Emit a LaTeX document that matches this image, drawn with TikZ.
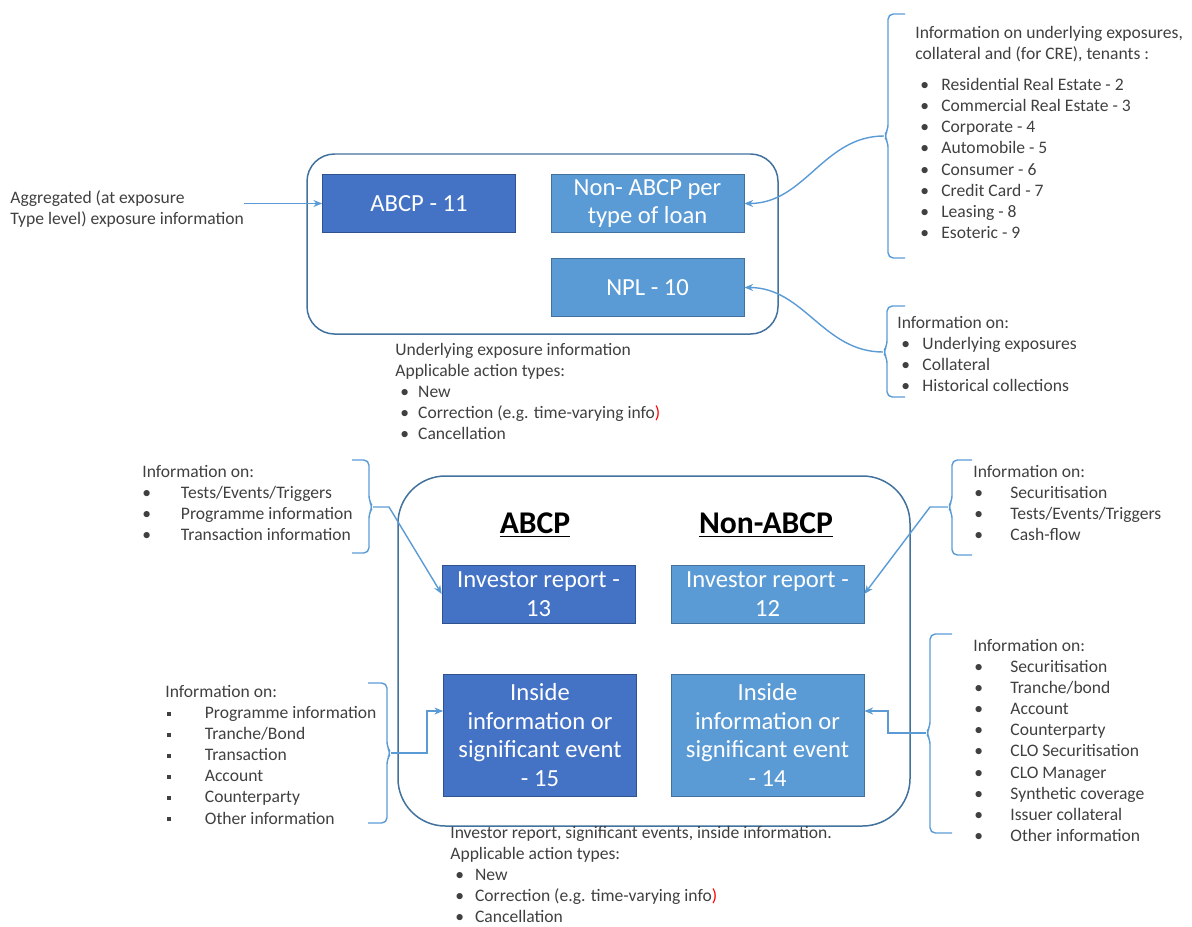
\documentclass[tikz,border=0pt]{standalone}
\usepackage{fontspec}
\setmainfont{Carlito}
\usetikzlibrary{arrows.meta,calc}
\definecolor{darkbox}{HTML}{4472C4}
\definecolor{darkedge}{HTML}{2F528F}
\definecolor{lightbox}{HTML}{5B9BD5}
\definecolor{lightedge}{HTML}{41719C}
\definecolor{panelcol}{HTML}{41719C}
\definecolor{linkcol}{HTML}{5B9BD5}
\definecolor{infotext}{HTML}{404040}
\newcommand{\bul}[2]{\hspace*{#1}\makebox[#2][l]{\textbullet}}
\newcommand{\bsq}[2]{\hspace*{#1}\makebox[#2][l]{\raisebox{1.6pt}{\rule{2.4pt}{2.4pt}}}}
\newcommand{\brk}[6]{\draw[bracket] (#1,#4) -- (#2,#4) -- (#2,#5-6) -- (#3,#5) -- (#2,#5+6) -- (#2,#6) -- (#1,#6);}

\begin{document}
\begin{tikzpicture}[x=0.02cm,y=-0.02cm,
    dbox/.style={fill=darkbox,draw=darkedge,text=white,minimum width=3.86cm,minimum height=1.16cm,align=center,inner sep=1pt,font=\fontsize{14}{16.4}\selectfont},
    lbox/.style={dbox,fill=lightbox,draw=lightedge},
    tall/.style={minimum height=2.44cm},
    info/.style={anchor=north west,inner sep=0pt,align=left,text=infotext,font=\fontsize{10}{12}\selectfont},
    head/.style={font=\fontsize{18}{20}\selectfont\bfseries},
    panel/.style={draw=panelcol,line width=0.85pt},
    arr/.style={draw=linkcol,line width=0.8pt,-{Stealth[length=5pt,width=4pt]}},
    bracket/.style={draw=linkcol,line width=0.8pt,rounded corners=3pt}]
    \useasboundingbox (0,0) rectangle (1192,926);

    \draw[panel,rounded corners=0.55cm] (307,154) rectangle (778,334);
    \draw[panel,rounded corners=0.95cm] (398,476) rectangle (910,826);

    \node[dbox] (abcp) at (419,203.5) {ABCP - 11};
    \node[lbox] (nonabcp) at (647.5,203.5) {Non- ABCP per\\type of loan};
    \node[lbox] (npl) at (647.5,287.5) {NPL - 10};

    \node[head] (habcp) at (535,525) {\underline{ABCP}};
    \node[head] (hnon) at (766,525) {\underline{Non-ABCP}};

    \node[dbox] (ir13) at (538.5,594) {Investor report -\\13};
    \node[lbox] (ir12) at (767.5,594) {Investor report -\\12};
    \node[dbox,tall] (ins15) at (540,735) {Inside\\information or\\significant event\\- 15};
    \node[lbox,tall] (ins14) at (767.5,735) {Inside\\information or\\significant event\\- 14};

    \node[info] (aggr) at (10,190) {Aggregated (at exposure\\Type level) exposure information};
    \node[info] (expinfo) at (915,26) {Information on underlying exposures,\\collateral and (for CRE), tenants :\\[5.7pt]
        \bul{2.8pt}{12pt}Residential Real Estate - 2\\
        \bul{2.8pt}{12pt}Commercial Real Estate - 3\\
        \bul{2.8pt}{12pt}Corporate - 4\\
        \bul{2.8pt}{12pt}Automobile - 5\\
        \bul{2.8pt}{12pt}Consumer - 6\\
        \bul{2.8pt}{12pt}Credit Card - 7\\
        \bul{2.8pt}{12pt}Leasing - 8\\
        \bul{2.8pt}{12pt}Esoteric - 9};
    \node[info] (nplinfo) at (897,316) {Information on:\\
        \bul{2.3pt}{12pt}Underlying exposures\\
        \bul{2.3pt}{12pt}Collateral\\
        \bul{2.3pt}{12pt}Historical collections};
    \node[info] (toptypes) at (395,343) {Underlying exposure information\\Applicable action types:\\
        \bul{2.8pt}{10.2pt}New\\
        \bul{2.8pt}{10.2pt}Correction (e.g. time-varying info\textcolor{red}{)}\\
        \bul{2.8pt}{10.2pt}Cancellation};
    \node[info] (abcpinfo) at (142,465) {Information on:\\
        \bul{0pt}{22pt}Tests/Events/Triggers\\
        \bul{0pt}{22pt}Programme information\\
        \bul{0pt}{22pt}Transaction information};
    \node[info] (noninfo) at (973,465) {Information on:\\
        \bul{0.6pt}{20.5pt}Securitisation\\
        \bul{0.6pt}{20.5pt}Tests/Events/Triggers\\
        \bul{0.6pt}{20.5pt}Cash-flow};
    \node[info] (abcpev) at (165,685) {Information on:\\
        \bsq{1pt}{21.5pt}Programme information\\
        \bsq{1pt}{21.5pt}Tranche/Bond\\
        \bsq{1pt}{21.5pt}Transaction\\
        \bsq{1pt}{21.5pt}Account\\
        \bsq{1pt}{21.5pt}Counterparty\\
        \bsq{1pt}{21.5pt}Other information};
    \node[info] (nonev) at (973,639) {Information on:\\
        \bul{0.6pt}{20.5pt}Securitisation\\
        \bul{0.6pt}{20.5pt}Tranche/bond\\
        \bul{0.6pt}{20.5pt}Account\\
        \bul{0.6pt}{20.5pt}Counterparty\\
        \bul{0.6pt}{20.5pt}CLO Securitisation\\
        \bul{0.6pt}{20.5pt}CLO Manager\\
        \bul{0.6pt}{20.5pt}Synthetic coverage\\
        \bul{0.6pt}{20.5pt}Issuer collateral\\
        \bul{0.6pt}{20.5pt}Other information};
    \node[info] (bottypes) at (450,826) {Investor report, significant events, inside information.\\Applicable action types:\\
        \bul{2.8pt}{11.3pt}New\\
        \bul{2.8pt}{11.3pt}Correction (e.g. time-varying info\textcolor{red}{)}\\
        \bul{2.8pt}{11.3pt}Cancellation};

    \brk{905}{888}{884}{14}{136}{258}
    \brk{905}{887}{883}{306}{352}{397}
    \brk{352}{369}{373}{460}{507}{553}
    \brk{972}{952}{948}{460}{507}{555}
    \brk{368}{387}{391}{683}{753}{823}
    \brk{952}{930}{926}{634}{733}{833}

    \coordinate (tipA) at (884,136);
    \coordinate (tipB) at (883,352);
    \coordinate (tipC) at (373,507);
    \coordinate (tipD) at (948,507);
    \coordinate (tipE) at (391,753);
    \coordinate (tipF) at (926,733);
    \coordinate (inE) at ($(ins15.west)+(0,-24)$);
    \coordinate (inF) at ($(ins14.east)+(0,-24)$);

    \draw[arr] (aggr.east |- abcp.west) -- (abcp.west);
    \draw[arr] (tipA) to[out=180,in=0] (nonabcp.east);
    \draw[arr] (tipB) to[out=180,in=0] (npl.east);
    \draw[arr] (tipC) -- ++(16,0) -- (ir13.west);
    \draw[arr] (tipD) -- ++(-18,0) -- (ir12.east);
    \draw[arr] (tipE) -- ++(36,0) |- (inE);
    \draw[arr] (tipF) -- ++(-38,0) |- (inF);
\end{tikzpicture}
\end{document}
